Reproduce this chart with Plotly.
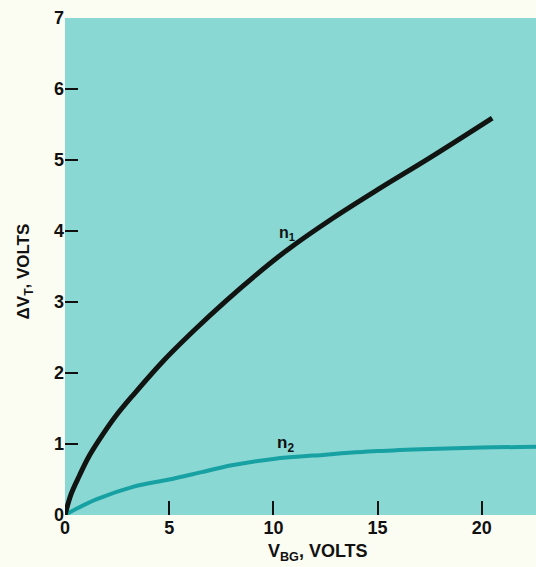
import plotly.graph_objects as go

# Data
n1_x = [0, 0.3, 0.7, 1.1, 1.6, 2.4, 3.3, 4.75, 6.3, 7.7, 9.2, 10.65, 12.85, 15.1, 17.5, 20.5]
n1_y = [0, 0.3, 0.56, 0.8, 1.04, 1.38, 1.7, 2.18, 2.63, 3.01, 3.39, 3.73, 4.18, 4.6, 5.03, 5.59]

n2_x = [0, 0.5, 1.5, 3.3, 5, 6.5, 8, 10, 12.5, 15, 17.5, 20, 22.6]
n2_y = [0, 0.08, 0.22, 0.4, 0.5, 0.6, 0.7, 0.79, 0.85, 0.9, 0.93, 0.95, 0.96]

x_ticks = [0, 5, 10, 15, 20]
y_ticks = [0, 1, 2, 3, 4, 5, 6, 7]

FONT = "Liberation Sans, Arial, sans-serif"

fig = go.Figure()
fig.add_trace(go.Scatter(x=n2_x, y=n2_y, mode="lines",
                         line=dict(color="#17a1a2", width=4, shape="spline"),
                         hoverinfo="skip", showlegend=False))
fig.add_trace(go.Scatter(x=n1_x, y=n1_y, mode="lines",
                         line=dict(color="#111411", width=5, shape="spline"),
                         hoverinfo="skip", showlegend=False))

fig.add_annotation(x=10.65, y=3.97, text="n<sub>1</sub>", showarrow=False,
                   font=dict(family=FONT, size=16, color="#111", weight="bold"))
fig.add_annotation(x=10.6, y=1.0, text="n<sub>2</sub>", showarrow=False,
                   font=dict(family=FONT, size=17, color="#111", weight="bold"))

fig.add_annotation(xref="paper", yref="paper", x=0.537, y=-0.076, yanchor="middle",
                   text="V<sub>BG</sub>, VOLTS", showarrow=False,
                   font=dict(family=FONT, size=18, color="#111", weight="bold"))
fig.add_annotation(xref="paper", yref="paper", x=-0.083, y=0.49, xanchor="center",
                   yanchor="middle",
                   text="ΔV<sub>T</sub>, VOLTS", showarrow=False, textangle=-90,
                   font=dict(family=FONT, size=17, color="#111", weight="bold"))

fig.update_layout(
    width=536, height=567,
    margin=dict(l=65, r=0, t=18, b=52),
    paper_bgcolor="#fcfdf2",
    plot_bgcolor="#89d8d4",
    xaxis=dict(range=[0, 22.6], tickvals=x_ticks, ticks="inside", ticklen=14,
               tickwidth=2, tickcolor="#111", showgrid=False, zeroline=False,
               showline=False, tickfont=dict(family=FONT, size=18, color="#111", weight="bold")),
    yaxis=dict(range=[0, 7], tickvals=y_ticks, ticks="inside", ticklen=13,
               tickwidth=2, tickcolor="#111", showgrid=False, zeroline=False,
               showline=False, tickfont=dict(family=FONT, size=18, color="#111", weight="bold")),
)

fig.write_html("out.html",
               config={"displayModeBar": False},
               post_script="document.body.style.margin='0';document.body.style.overflow='hidden';")
